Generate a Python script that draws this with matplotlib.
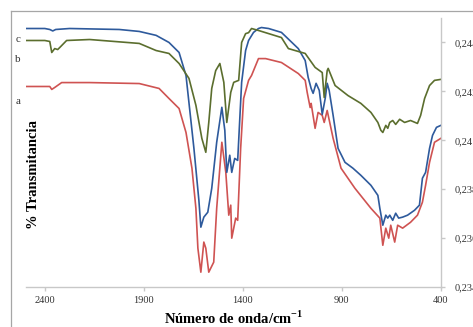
import numpy as np
import matplotlib
matplotlib.use("Agg")
import matplotlib.pyplot as plt
from matplotlib.lines import Line2D

plt.rcParams.update({
    "font.family": ["Liberation Serif", "DejaVu Serif"],
    "mathtext.fontset": "custom",
    "mathtext.rm": "Liberation Serif",
    "mathtext.bf": "Liberation Serif:bold",
})

# espectro c (azul)
wn_c = [2495, 2400, 2375, 2360, 2345, 2275, 2024, 1923, 1838, 1773, 1722, 1687, 1647,
        1622, 1612, 1597, 1577, 1557, 1532, 1506, 1491, 1481, 1466, 1456, 1441, 1426,
        1406, 1386, 1371, 1346, 1321, 1306, 1270, 1205, 1120, 1085, 1070, 1055, 1045,
        1030, 1014, 999, 984, 974, 964, 944, 919, 884, 844, 804, 753, 718, 708, 693,
        678, 668, 658, 643, 628, 613, 593, 568, 533, 508, 493, 477, 457, 442, 422, 400]
t_c = [0.24457, 0.24457, 0.24453, 0.24447, 0.24453, 0.24457, 0.24453, 0.24445, 0.24429,
       0.24400, 0.24359, 0.24265, 0.23967, 0.23755, 0.23645, 0.23686, 0.23706, 0.23804,
       0.23992, 0.24135, 0.24041, 0.23869, 0.23939, 0.23869, 0.23926, 0.23918, 0.24237,
       0.24367, 0.24408, 0.24441, 0.24457, 0.24461, 0.24457, 0.24441, 0.24375, 0.24326,
       0.24257, 0.24212, 0.24192, 0.24233, 0.24204, 0.24106, 0.24171, 0.24233, 0.24204,
       0.24102, 0.23967, 0.23910, 0.23886, 0.23857, 0.23816, 0.23775, 0.23722, 0.23653,
       0.23694, 0.23682, 0.23694, 0.23673, 0.23702, 0.23682, 0.23686, 0.23694, 0.23714,
       0.23735, 0.23845, 0.23869, 0.23967, 0.24020, 0.24053, 0.24061]

# espectro b (verde)
wn_b = [2495, 2400, 2375, 2365, 2350, 2335, 2325, 2290, 2174, 1923, 1838, 1773, 1722,
        1672, 1637, 1607, 1587, 1572, 1557, 1537, 1516, 1496, 1481, 1461, 1446, 1421,
        1406, 1386, 1371, 1356, 1321, 1285, 1205, 1170, 1085, 1035, 999, 989, 974, 969,
        934, 869, 804, 753, 718, 703, 693, 678, 668, 658, 643, 628, 608, 583, 553, 518,
        502, 482, 457, 432, 400]
t_b = [0.24408, 0.24408, 0.24404, 0.24359, 0.24375, 0.24371, 0.24379, 0.24408, 0.24412,
       0.24396, 0.24367, 0.24355, 0.24314, 0.24253, 0.24143, 0.24008, 0.23951, 0.24073,
       0.24212, 0.24285, 0.24314, 0.24237, 0.24073, 0.24196, 0.24237, 0.24245, 0.24400,
       0.24436, 0.24440, 0.24457, 0.24449, 0.24440, 0.24420, 0.24375, 0.24355, 0.24298,
       0.24277, 0.24175, 0.24285, 0.24294, 0.24224, 0.24183, 0.24151, 0.24114, 0.24073,
       0.24041, 0.24032, 0.24061, 0.24049, 0.24073, 0.24081, 0.24065, 0.24086, 0.24073,
       0.24081, 0.24069, 0.24102, 0.24171, 0.24224, 0.24245, 0.24249]

# espectro a (rojo)
wn_a = [2495, 2400, 2375, 2365, 2350, 2315, 2174, 1923, 1823, 1773, 1722, 1687, 1657,
        1637, 1627, 1612, 1597, 1587, 1572, 1547, 1532, 1506, 1486, 1471, 1461, 1456,
        1436, 1426, 1411, 1396, 1371, 1356, 1321, 1285, 1205, 1120, 1085, 1075, 1060,
        1055, 1035, 1020, 999, 989, 974, 944, 904, 834, 753, 708, 693, 678, 663, 653,
        633, 618, 593, 553, 518, 493, 477, 457, 432, 400]
t_a = [0.24220, 0.24220, 0.24220, 0.24208, 0.24216, 0.24236, 0.24236, 0.24232, 0.24212,
       0.24171, 0.24130, 0.24032, 0.23886, 0.23722, 0.23559, 0.23461, 0.23584, 0.23559,
       0.23461, 0.23502, 0.23722, 0.23992, 0.23869, 0.23694, 0.23735, 0.23600, 0.23682,
       0.23673, 0.23967, 0.24171, 0.24245, 0.24265, 0.24334, 0.24334, 0.24318, 0.24273,
       0.24245, 0.24196, 0.24134, 0.24151, 0.24049, 0.24114, 0.24102, 0.24073, 0.24122,
       0.24008, 0.23886, 0.23804, 0.23722, 0.23682, 0.23571, 0.23641, 0.23600, 0.23653,
       0.23584, 0.23653, 0.23641, 0.23665, 0.23694, 0.23747, 0.23816, 0.23910, 0.23992,
       0.24008]

x_ticks = [2400, 1900, 1400, 900, 400]
y_ticks = [0.234, 0.236, 0.238, 0.240, 0.242, 0.244]
y_labels = ["0,234", "0,236", "0,238", "0,24", "0,242", "0,244"]

fig = plt.figure(figsize=(4.73, 3.27), dpi=100)
ax = fig.add_axes([0.055, 0.122, 0.877, 0.823])

ax.plot(wn_a, t_a, color="#CF5352", lw=1.2)
ax.plot(wn_c, t_c, color="#2E5A9C", lw=1.2)
ax.plot(wn_b, t_b, color="#5B6E2E", lw=1.2)

ax.set_xlim(2495, 400)
ax.set_ylim(0.234, 0.245)

grey = "#C8C8C8"
for s in ["left", "top"]:
    ax.spines[s].set_visible(False)
for s in ["bottom", "right"]:
    ax.spines[s].set_color(grey)
    ax.spines[s].set_linewidth(1.0)

ax.yaxis.tick_right()
ax.set_xticks(x_ticks)
ax.set_xticklabels([str(v) for v in x_ticks])
ax.set_yticks(y_ticks)
ax.set_yticklabels(y_labels)
ax.tick_params(axis="both", colors=grey, length=3, width=1.0, labelsize=7.5,
               labelcolor="#333333")
ax.tick_params(axis="y", pad=7)

ax.set_xlabel(r"Número de onda/cm$^{\mathbf{-1}}$", fontsize=10.5,
              fontweight="bold", labelpad=3)
fig.text(0.07, 0.465, "% Transmitancia", rotation=90, fontsize=10.5,
         fontweight="bold", ha="center", va="center")

# etiquetas de las curvas
for lab, yp in zip(["c", "b", "a"], [40, 60, 101]):
    fig.text(18 / 473, 1 - yp / 327, lab, fontsize=8, ha="center", va="center",
             color="#333333")

# marco del grafico
fig.add_artist(Line2D([11 / 473, 11 / 473], [0, 1 - 11 / 327],
                      color="#A6A6A6", lw=0.9))
fig.add_artist(Line2D([11 / 473, 1], [1 - 11 / 327, 1 - 11 / 327],
                      color="#A6A6A6", lw=0.9))

fig.savefig("out.png", dpi=100)
